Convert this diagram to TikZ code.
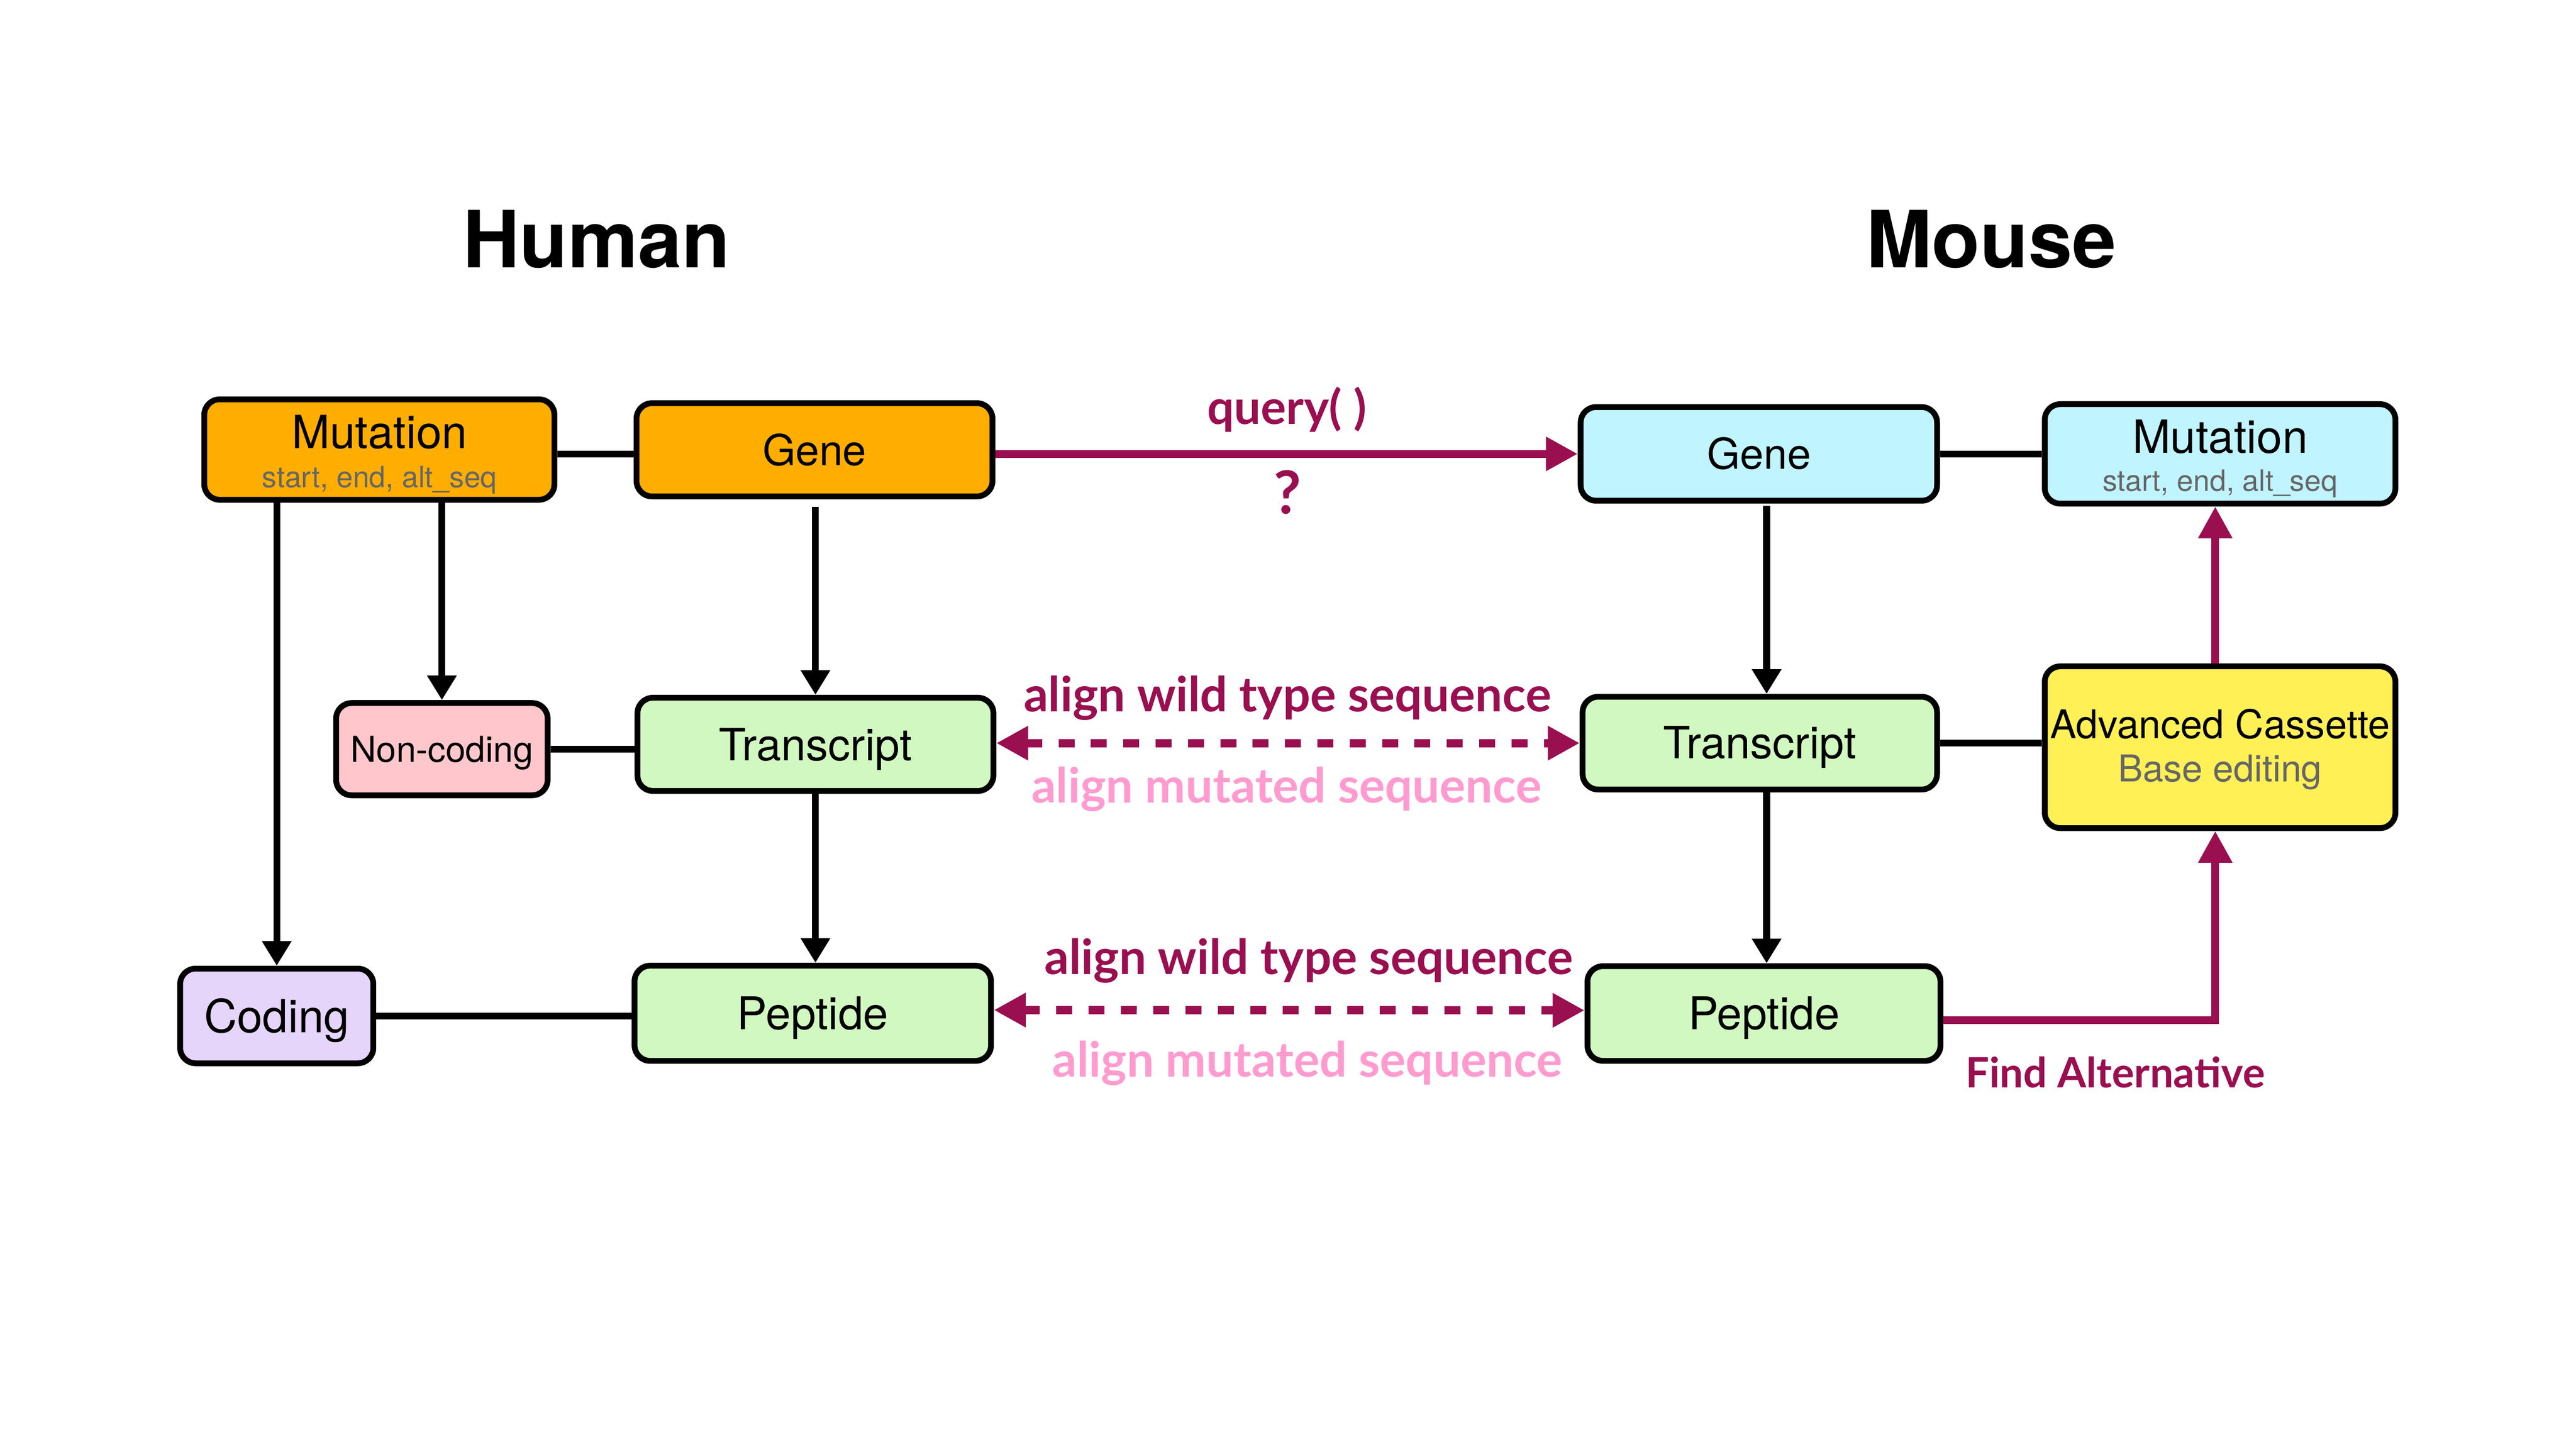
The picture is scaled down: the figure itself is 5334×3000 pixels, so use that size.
\documentclass[tikz,border=0pt]{standalone}
\usepackage{fontspec}
\setmainfont{TeX Gyre Heros}
\newfontfamily\labfont{Lato}
\usetikzlibrary{arrows.meta}
\definecolor{orng}{HTML}{FFAE00}
\definecolor{lblue}{HTML}{C0F4FF}
\definecolor{lgreen}{HTML}{D0F8C0}
\definecolor{lpink}{HTML}{FFC7CC}
\definecolor{lav}{HTML}{E6D5FA}
\definecolor{yel}{HTML}{FFF056}
\definecolor{magc}{HTML}{990F50}
\definecolor{pinkt}{HTML}{FF9BCF}
\definecolor{grayt}{HTML}{666666}
\newlength\fitlen
\newcommand\fitfont[2]{\settowidth\fitlen{\labfont\bfseries\fontsize{10pt}{12pt}\selectfont #2}\pgfmathsetmacro\fitsz{10*#1/\fitlen}\labfont\bfseries\fontsize{\fitsz pt}{\fitsz pt}\selectfont}
\newcommand\hv[1]{\fontsize{#1}{#1}\selectfont}
\tikzset{
  bx/.style={draw=black, line width=3.6pt, rounded corners=9.6pt, inner sep=0pt, text depth=0pt},
  blk/.style={line width=4.2pt, draw=black},
  blkarr/.style={blk, -{Triangle[length=15.3pt,width=17.4pt]}},
  mag/.style={line width=4.8pt, draw=magc, line join=miter},
  magarr/.style={mag, -{Triangle[length=19.8pt,width=20.1pt]}},
  dasharr/.style={line width=5.1pt, draw=magc, dash pattern=on 9.9pt off 10.2pt,
     {Triangle[length=19.8pt,width=20.1pt]}-{Triangle[length=19.8pt,width=20.1pt]}},
  lab/.style={anchor=base, inner sep=0pt},
}
\begin{document}
\begin{tikzpicture}[x=0.3pt,y=-0.3pt]
\useasboundingbox (0,0) rectangle (5334,3000);
\fill[white] (0,0) rectangle (5334,3000);

% titles
\node[lab, font=\bfseries\hv{49pt}] (human) at (1235,554) {Human};
\node[lab, font=\bfseries\hv{49pt}] (mouse) at (4123,554) {Mouse};

% human side
\node[bx, fill=orng, minimum width=217.5pt, minimum height=62.4pt] (mh) at (785.5,931) {};
\node[lab, font=\hv{28.4pt}] (mht) at (786,929) {Mutation};
\node[lab, font=\hv{18.3pt}, text=grayt] (mhs) at (786,1010) {start, end, alt\_seq};
\node[bx, fill=orng, minimum width=221.1pt, minimum height=57.9pt, text height=19.5pt, font=\hv{26.4pt}] (gh) at (1686.5,931.5) {Gene};
\node[bx, fill=lpink, minimum width=131.4pt, minimum height=57.3pt, text height=15.9pt, font=\hv{22.2pt}] (nc) at (915,1551.5) {Non-coding};
\node[bx, fill=lgreen, minimum width=221.1pt, minimum height=57.9pt, text height=20.1pt, font=\hv{27.6pt}] (th) at (1688.5,1541.5) {Transcript};
\node[bx, fill=lav, minimum width=120pt, minimum height=58.8pt, text height=20.4pt, font=\hv{28.4pt}] (cd) at (573,2104) {Coding};
\node[bx, fill=lgreen, minimum width=221.4pt, minimum height=59.1pt, text height=20.1pt, font=\hv{28pt}] (ph) at (1683,2098.5) {Peptide};

% mouse side
\node[bx, fill=lblue, minimum width=221.4pt, minimum height=58.2pt, text height=18.6pt, font=\hv{26.4pt}] (gm) at (3642,940) {Gene};
\node[bx, fill=lblue, minimum width=217.8pt, minimum height=61.8pt] (mm) at (4597,940) {};
\node[lab, font=\hv{28.4pt}] (mmt) at (4597,938) {Mutation};
\node[lab, font=\hv{18.3pt}, text=grayt] (mms) at (4597,1017) {start, end, alt\_seq};
\node[bx, fill=lgreen, minimum width=220.2pt, minimum height=57.6pt, text height=19.2pt, font=\hv{27.6pt}] (tm) at (3644,1539) {Transcript};
\node[bx, fill=yel, minimum width=217.8pt, minimum height=100.5pt] (ac) at (4597,1547.5) {};
\node[lab, font=\hv{24.5pt}] (act) at (4597,1529) {Advanced Cassette};
\node[lab, font=\hv{23pt}, text=grayt] (acs) at (4597,1619) {Base editing};
\node[bx, fill=lgreen, minimum width=219.3pt, minimum height=58.8pt, text height=19.8pt, font=\hv{28pt}] (pm) at (3652.5,2099) {Peptide};

% black connectors
\draw[blk] ([yshift=-2.7pt]mh.east) -- ([yshift=-2.7pt]mh.east -| gh.west);
\draw[blk] (gm.east) -- (gm.east -| mm.west);
\draw[blk] (nc.east) -- (nc.east -| th.west);
\draw[blk] (tm.east) -- (tm.east -| ac.west);
\draw[blk] (cd.east) -- (cd.east -| ph.west);
\draw[blkarr] (mh.south -| nc.north) -- (nc.north);
\draw[blkarr] (mh.south -| cd.north) -- (cd.north);
\draw[blkarr, shorten <=4.8pt] (gh.south -| th.north) -- (th.north);
\draw[blkarr] (th.south) -- (th.south |- ph.north);
\draw[blkarr, shorten <=1.5pt] ([xshift=4.8pt]gm.south) -- ([xshift=4.8pt]gm.south |- tm.north);
\draw[blkarr] ([xshift=4.2pt]tm.south) -- ([xshift=4.2pt]tm.south |- pm.north);

% magenta connectors
\draw[magarr] (gh.east |- gm.west) -- (gm.west);
\draw[dasharr] (th.east |- tm.west) -- (tm.west);
\draw[dasharr] ([yshift=2pt]ph.east) -- ([yshift=2pt]pm.west);
\coordinate (fa) at (4587,2113);
\draw[magarr] (pm.east |- fa) -- (fa) -- (fa |- ac.south);
\draw[magarr] (fa |- ac.north) -- (fa |- mm.south);

% labels
\node[lab, text=magc] (lq) at (2665,878) {\fitfont{99}{query( )}query( )};
\node[lab, text=magc, font=\labfont\bfseries\hv{37pt}] (lqm) at (2666,1064) {?};
\node[lab, text=magc] (lw1) at (2666,1474) {\fitfont{327.6}{align wild type sequence}align wild type sequence};
\node[lab, text=pinkt] (lm1) at (2664,1663) {\fitfont{316.8}{align mutated sequence}align mutated sequence};
\node[lab, text=magc] (lw2) at (2710,2018) {\fitfont{328.2}{align wild type sequence}align wild type sequence};
\node[lab, text=pinkt] (lm2) at (2707,2230) {\fitfont{316.8}{align mutated sequence}align mutated sequence};
\node[lab, text=magc] (lfa) at (4380,2252) {\fitfont{186}{Find Alternative}Find Alternative};
\end{tikzpicture}
\end{document}
